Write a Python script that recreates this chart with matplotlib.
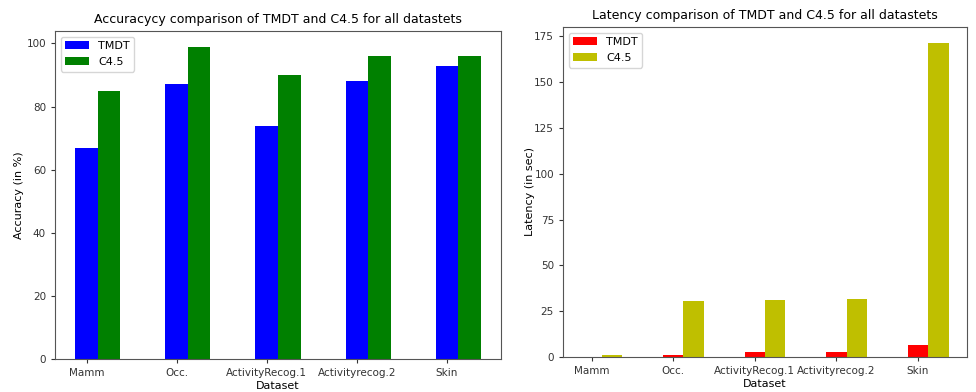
import numpy as np
import matplotlib
matplotlib.use("Agg")
import matplotlib.pyplot as plt

datasets = ["Mamm", "Occ.", "ActivityRecog.1", "Activityrecog.2", "Skin"]
acc_tmdt = [67, 87, 74, 88, 93]
acc_c45 = [85, 99, 90, 96, 96]
lat_tmdt = [0.1, 1.2, 2.5, 2.5, 6.3]
lat_c45 = [1.2, 30.5, 31.2, 31.8, 171.5]

plt.rcParams['font.family'] = ['DejaVu Sans']
plt.rcParams['font.size'] = 8

fig = plt.figure(figsize=(9.76, 3.92), dpi=100)
W, H = 976, 392

def box(x0, x1, y0, y1):
    # pixel box -> figure fraction
    return [x0 / W, 1 - y1 / H, (x1 - x0) / W, (y1 - y0) / H]

ax1 = fig.add_axes(box(55, 501, 31, 359))
ax2 = fig.add_axes(box(563, 967, 27, 357))

x = np.arange(len(datasets))
w = 0.25

ax1.bar(x, acc_tmdt, w, color='b', label='TMDT')
ax1.bar(x + w, acc_c45, w, color='g', label='C4.5')
ax1.set_xticks(x)
ax1.set_xticklabels(datasets)
ax1.set_xlabel("Dataset", labelpad=2)
ax1.set_ylabel("Accuracy (in %)", labelpad=2)
ax1.set_title("Accuracycy comparison of TMDT and C4.5 for all datastets", fontsize=9)
ax1.legend(loc='upper left', handlelength=2.2, labelspacing=0.55)

ax2.bar(x, lat_tmdt, w, color='r', label='TMDT')
ax2.bar(x + w, lat_c45, w, color='y', label='C4.5')
ax2.set_xticks(x)
ax2.set_xticklabels(datasets)
ax2.set_xlabel("Dataset", labelpad=2)
ax2.set_ylabel("Latency (in sec)", labelpad=-1)
ax2.set_title("Latency comparison of TMDT and C4.5 for all datastets", fontsize=9)
ax2.legend(loc='upper left', handlelength=2.2, labelspacing=0.55)

for ax in (ax1, ax2):
    for s in ax.spines.values():
        s.set_color('#555555')
    ax.tick_params(colors='#333333', labelsize=7.5, length=3)

fig.savefig("out.png", dpi=100)
